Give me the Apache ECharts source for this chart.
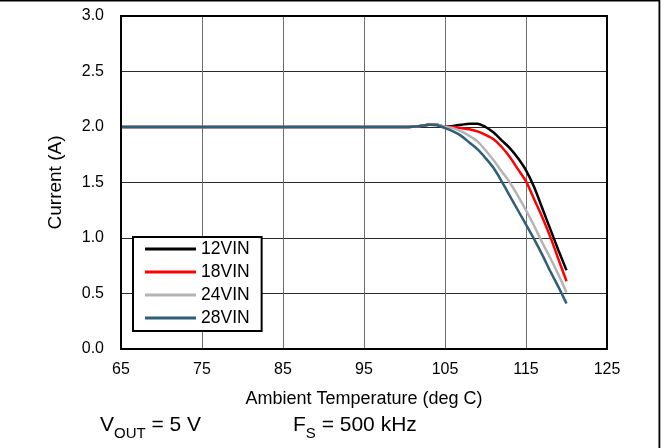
<!DOCTYPE html>
<html>
<head>
<meta charset="utf-8">
<script src="https://cdn.jsdelivr.net/npm/echarts@6/dist/echarts.min.js"></script>
<style>
html,body{margin:0;padding:0;background:#fff;}
#chart{width:664px;height:448px;}
</style>
</head>
<body>
<div id="chart"></div>
<script>
var seriesNames = ['12VIN', '18VIN', '24VIN', '28VIN'];
var seriesColors = ['#000000', '#ff0000', '#b4b4b4', '#2e5f78'];
var temps = [65, 75, 85, 95, 100, 101, 102, 103, 104, 105, 106, 107, 108, 109, 110, 111, 112, 113, 114, 115, 116, 117, 118, 119, 120];
var cur12 = [2.0, 2.0, 2.0, 2.0, 2.0, 2.003, 2.01, 2.02, 2.02, 2.0, 2.01, 2.02, 2.03, 2.03, 2.0, 1.95, 1.88, 1.81, 1.72, 1.61, 1.46, 1.27, 1.08, 0.89, 0.71];
var cur18 = [2.0, 2.0, 2.0, 2.0, 2.0, 2.003, 2.01, 2.02, 2.02, 2.0, 2.0, 1.99, 1.98, 1.96, 1.93, 1.89, 1.82, 1.73, 1.62, 1.51, 1.35, 1.19, 1.01, 0.81, 0.61];
var cur24 = [2.0, 2.0, 2.0, 2.0, 2.0, 2.003, 2.01, 2.02, 2.02, 2.0, 1.99, 1.96, 1.92, 1.87, 1.79, 1.70, 1.60, 1.50, 1.38, 1.25, 1.11, 0.96, 0.82, 0.67, 0.51];
var cur28 = [2.0, 2.0, 2.0, 2.0, 2.0, 2.003, 2.01, 2.02, 2.015, 1.99, 1.96, 1.92, 1.86, 1.80, 1.72, 1.63, 1.51, 1.38, 1.25, 1.12, 0.99, 0.85, 0.70, 0.56, 0.41];
var xTicks = [65, 75, 85, 95, 105, 115, 125];
var yTicks = [0.0, 0.5, 1.0, 1.5, 2.0, 2.5, 3.0];

var curs = [cur12, cur18, cur24, cur28];
var FONT = '"Liberation Sans", Arial, sans-serif';

function pairs(xs, ys) { return xs.map(function (x, i) { return [x, ys[i]]; }); }

var series = seriesNames.map(function (name, k) {
  return {
    name: name,
    type: 'line',
    data: pairs(temps, curs[k]),
    smooth: 0.3,
    symbol: 'none',
    lineStyle: { color: seriesColors[k], width: 2.5 },
    itemStyle: { color: seriesColors[k] },
    z: 3 + k,
    animation: false
  };
});

var chart = echarts.init(document.getElementById('chart'), null, { renderer: 'canvas' });
chart.setOption({
  animation: false,
  backgroundColor: '#ffffff',
  grid: {
    left: 121, right: 57, top: 16, bottom: 99,
    show: true, borderColor: '#000', borderWidth: 2, backgroundColor: 'transparent', z: 20
  },
  xAxis: {
    type: 'value',
    min: xTicks[0], max: xTicks[xTicks.length - 1], interval: 10,
    name: 'Ambient Temperature (deg C)',
    nameLocation: 'middle', nameGap: 41,
    nameTextStyle: { fontFamily: FONT, fontSize: 18, color: '#000' },
    axisLine: { show: false },
    axisTick: { show: false },
    axisLabel: { fontFamily: FONT, fontSize: 16, color: '#000', margin: 13 },
    splitLine: { show: true, lineStyle: { color: '#6e6e6e', width: 1 } }
  },
  yAxis: {
    type: 'value',
    min: yTicks[0], max: yTicks[yTicks.length - 1], interval: 0.5,
    name: 'Current (A)',
    nameLocation: 'middle', nameGap: 56,
    nameTextStyle: { fontFamily: FONT, fontSize: 19, color: '#000' },
    axisLine: { show: false },
    axisTick: { show: false },
    axisLabel: { fontFamily: FONT, fontSize: 16, color: '#000', margin: 17,
      formatter: function (v) { return v.toFixed(1); } },
    splitLine: { show: true, lineStyle: { color: '#2a2a2a', width: 1 } }
  },
  legend: {
    orient: 'vertical',
    left: 133, top: 237,
    data: seriesNames,
    icon: 'rect',
    itemWidth: 51, itemHeight: 3,
    itemGap: 5,
    padding: [3, 12, 4, 12],
    borderColor: '#000', borderWidth: 2,
    backgroundColor: '#fff',
    textStyle: { fontFamily: FONT, fontSize: 17.5, color: '#000', lineHeight: 16 },
    z: 30
  },
  series: series,
  graphic: [
    { type: 'rect', shape: { x: 0, y: 0, width: 660, height: 1.5 }, style: { fill: '#000' }, silent: true },
    { type: 'rect', shape: { x: 658.5, y: 0, width: 1.8, height: 448 }, style: { fill: '#000' }, silent: true },
    { type: 'text', left: 100, top: 415,
      style: { text: '{a|V}{b|OUT}{a| = 5 V}',
        rich: {
          a: { fontFamily: FONT, fontSize: 21, fill: '#000', lineHeight: 24, verticalAlign: 'bottom' },
          b: { fontFamily: FONT, fontSize: 15, fill: '#000', lineHeight: 18, verticalAlign: 'bottom', padding: [0, 0, -5, 0] }
        } } },
    { type: 'text', left: 293, top: 415,
      style: { text: '{a|F}{b|S}{a| = 500 kHz}',
        rich: {
          a: { fontFamily: FONT, fontSize: 21, fill: '#000', lineHeight: 24, verticalAlign: 'bottom' },
          b: { fontFamily: FONT, fontSize: 15, fill: '#000', lineHeight: 18, verticalAlign: 'bottom', padding: [0, 0, -5, 0] }
        } } }
  ]
});
</script>
</body>
</html>
